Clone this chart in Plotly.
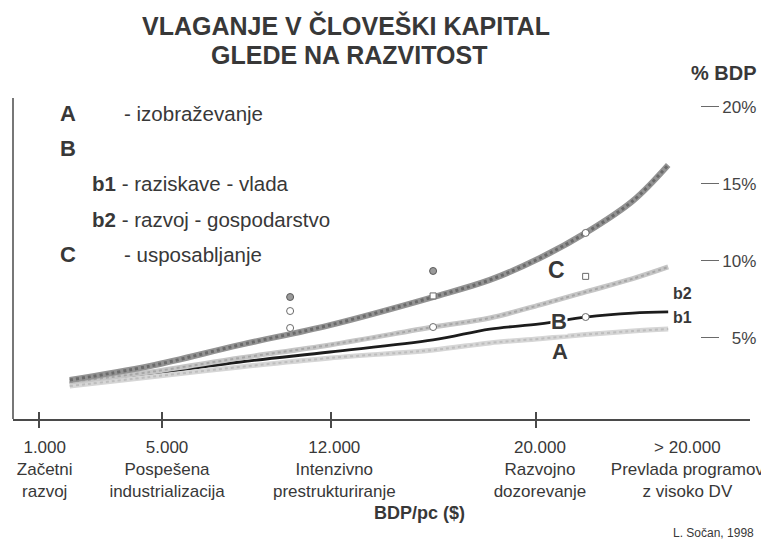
import plotly.graph_objects as go

# ---------------- data ----------------
# position along the development axis (0..100 = full width of the axis)
X_POS = [7.7, 18.6, 30.8, 43.0, 57.0, 64.7, 71.5, 77.7, 84.1, 88.9]
# % BDP
C_VALS = [2.27, 3.18, 4.55, 5.84, 7.66, 8.77, 10.19, 11.82, 13.9, 16.23]
B2_VALS = [2.14, 2.79, 3.70, 4.55, 5.71, 6.30, 7.15, 7.99, 8.85, 9.61]
B1_VALS = [2.08, 2.66, 3.44, 4.09, 4.87, 5.58, 5.91, 6.36, 6.62, 6.69]
A_VALS = [1.88, 2.47, 3.12, 3.70, 4.22, 4.68, 4.95, 5.22, 5.45, 5.58]

# scattered country points
HATCH_X = [37.6, 57.0]
HATCH_Y = [7.66, 9.35]
OPEN_X = [37.6, 37.6, 57.0, 77.7, 77.7]
OPEN_Y = [6.75, 5.65, 5.71, 11.82, 6.36]
SQ_X = [57.0, 77.7]
SQ_Y = [7.73, 9.00]

# x axis
TICK_POS = [3.5, 20.2, 43.1, 71.0]
LABEL_POS = [4.3, 20.9, 43.6, 71.5, 91.5]
LABEL_TEXT = [
    "1.000<br>Začetni<br>razvoj",
    "5.000<br>Pospešena<br>industrializacija",
    "12.000<br>Intenzivno<br>prestrukturiranje",
    "20.000<br>Razvojno<br>dozorevanje",
    "> 20.000<br>Prevlada programov<br>z visoko DV",
]
# y axis
Y_TICKS = [5, 10, 15, 20]
Y_TEXT = ["\u20075%", "10%", "15%", "20%"]

FONT = "Liberation Sans, Arial, sans-serif"
TXT = "#383838"

fig = go.Figure()

def textured(x, y, base, dots, width):
    fig.add_trace(go.Scatter(x=x, y=y, mode="lines", line=dict(color=base, width=width, shape="spline"),
                             hoverinfo="skip", showlegend=False))
    fig.add_trace(go.Scatter(x=x, y=y, mode="lines", line=dict(color=dots, width=max(width - 3, 1.5), dash="dot", shape="spline"),
                             hoverinfo="skip", showlegend=False))

fig.add_trace(go.Scatter(x=X_POS, y=B1_VALS, mode="lines", line=dict(color="#1c1c1c", width=2.8, shape="spline"),
                         showlegend=False))
textured(X_POS, A_VALS, "#d6d6d6", "#bdbdbd", 5)
textured(X_POS, B2_VALS, "#c6c6c6", "#a6a6a6", 5)
textured(X_POS, C_VALS, "#939393", "#6a6a6a", 6)

fig.add_trace(go.Scatter(x=HATCH_X, y=HATCH_Y, mode="markers",
                         marker=dict(symbol="circle", size=7, color="#9a9a9a", line=dict(color="#5a5a5a", width=1)),
                         showlegend=False))
fig.add_trace(go.Scatter(x=OPEN_X, y=OPEN_Y, mode="markers",
                         marker=dict(symbol="circle", size=7, color="white", line=dict(color="#6a6a6a", width=1)),
                         showlegend=False))
fig.add_trace(go.Scatter(x=SQ_X, y=SQ_Y, mode="markers",
                         marker=dict(symbol="square", size=6, color="white", line=dict(color="#6a6a6a", width=1)),
                         showlegend=False))

# dummy traces for tick-only axes
for ax in ["x2", "x3"]:
    fig.add_trace(go.Scatter(x=[0], y=[0], xaxis=ax, mode="markers", marker=dict(opacity=0),
                             hoverinfo="skip", showlegend=False))

annotations = []
def ann(text, x, y, size, bold=False, xref="paper", yref="paper", xanchor="center", color=TXT, bg=None):
    d = dict(text=f"<b>{text}</b>" if bold else text, x=x, y=y, xref=xref, yref=yref, showarrow=False,
             xanchor=xanchor, yanchor="middle", font=dict(family=FONT, size=size, color=color))
    if bg:
        d["bgcolor"] = bg
        d["borderpad"] = 0
    annotations.append(d)

# title
ann("VLAGANJE V ČLOVEŠKI KAPITAL", 0.452, 1.227, 25, bold=True)
ann("GLEDE NA RAZVITOST", 0.456, 1.134, 25, bold=True)
ann("% BDP", 0.965, 1.078, 20, bold=True)

# legend
ann("A", 0.061, 0.953, 22, bold=True, xanchor="left")
ann("- izobraževanje", 0.148, 0.953, 20.5, xanchor="left")
ann("B", 0.061, 0.844, 22, bold=True, xanchor="left")
ann("<b>b1</b> - raziskave - vlada", 0.1045, 0.735, 20.5, xanchor="left")
ann("<b>b2</b> - razvoj - gospodarstvo", 0.1045, 0.62, 20.5, xanchor="left")
ann("C", 0.061, 0.511, 22, bold=True, xanchor="left")
ann("- usposabljanje", 0.148, 0.511, 20.5, xanchor="left")

# series labels
ann("C", 73.8, 9.42, 23, bold=True, xref="x", yref="y")
ann("B", 74.1, 6.04, 22, bold=True, xref="x", yref="y", bg="white")
ann("A", 74.2, 4.10, 22, bold=True, xref="x", yref="y")
ann("b2", 89.3, 7.92, 16, bold=True, xref="x", yref="y", xanchor="left")
ann("b1", 89.3, 6.30, 16, bold=True, xref="x", yref="y", xanchor="left")

# axis title / source
ann("BDP/pc ($)", 0.552, -0.293, 18, bold=True)
ann("L. Sočan, 1998", 0.95, -0.355, 12)

# the page adds an 8px body margin, so the figure is 8px smaller and margins shifted
fig.update_layout(
    width=761, height=533,
    margin=dict(l=5, r=19, t=90, b=122),
    paper_bgcolor="white", plot_bgcolor="white",
    showlegend=False,
    font=dict(family=FONT, color=TXT),
    xaxis=dict(range=[0, 100], showgrid=False, zeroline=False, showline=True, linecolor="#4a4a4a", linewidth=1.5,
               tickvals=LABEL_POS, ticktext=LABEL_TEXT, ticks="outside", ticklen=12,
               tickcolor="rgba(0,0,0,0)", tickfont=dict(family=FONT, size=17, color=TXT)),
    xaxis2=dict(range=[0, 100], overlaying="x", anchor="y", showgrid=False, zeroline=False, showline=False,
                tickvals=TICK_POS, ticks="outside", ticklen=8, tickwidth=1.5, tickcolor="#4a4a4a",
                showticklabels=False),
    xaxis3=dict(range=[0, 100], overlaying="x", anchor="y", showgrid=False, zeroline=False, showline=False,
                tickvals=TICK_POS, ticks="inside", ticklen=7, tickwidth=1.5, tickcolor="#4a4a4a",
                showticklabels=False),
    yaxis=dict(range=[-0.26, 20.58], side="right", anchor="free", position=0.932, showgrid=False,
               zeroline=False, showline=False, tickvals=Y_TICKS, ticktext=Y_TEXT, ticks="outside",
               ticklen=18, tickwidth=1.2, tickcolor="#6a6a6a", tickfont=dict(family=FONT, size=17, color="#444")),
    shapes=[dict(type="line", xref="paper", yref="paper", x0=0, x1=0, y0=0, y1=1,
                 line=dict(color="#4a4a4a", width=1.5))],
    annotations=annotations,
)

fig.write_html("out.html")
